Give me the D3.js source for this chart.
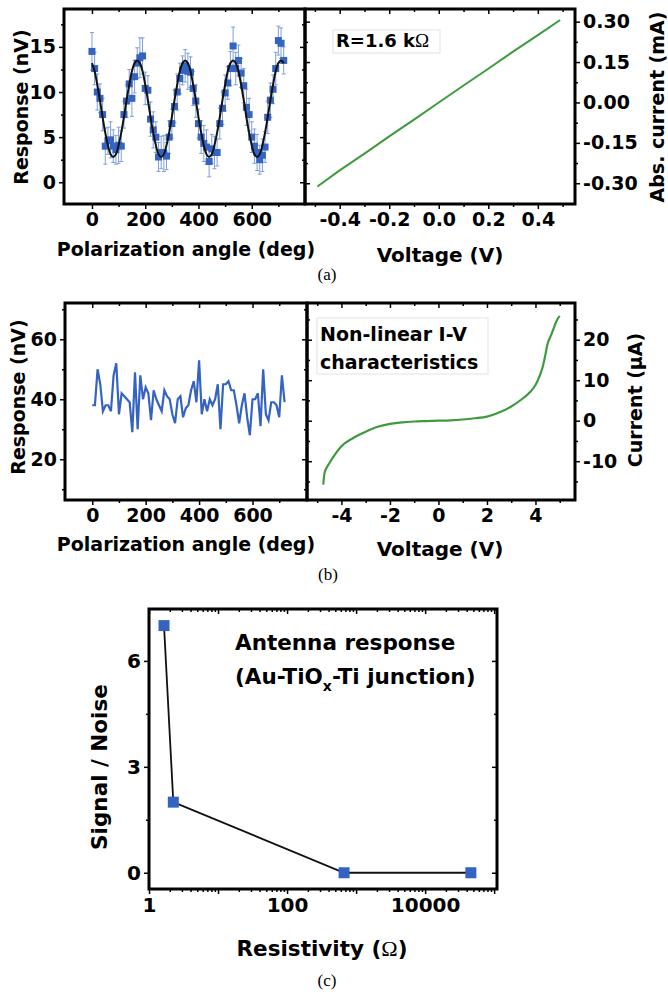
<!DOCTYPE html>
<html>
<head>
<meta charset="utf-8">
<script src="https://cdn.jsdelivr.net/npm/d3@7"></script>
<style>
  body { margin: 0; background: #fff; }
  svg text { font-family: "DejaVu Sans", sans-serif; font-weight: bold; fill: #000; }
  .tick line { stroke: #000; stroke-width: 1.5; }
  .domain { display: none; }
  .cap { font-family: "Liberation Serif", serif !important; font-weight: normal !important; }
</style>
</head>
<body>
<div id="chart"></div>
<script>
// (a) left: polarization response, squares with error bars + fit
const anglesA = [0,10,20,30,40,50,60,70,80,90,100,110,120,130,140,150,160,170,180,190,200,210,220,230,240,250,260,270,280,290,300,310,320,330,340,350,360,370,380,390,400,410,420,430,440,450,460,470,480,490,500,510,520,530,540,550,560,570,580,590,600,610,620,630,640,650,660,670,680,690,700,710,720];
const respA = [14.5,12.6,10.0,9.3,7.5,4.0,4.6,4.7,4.0,3.6,4.1,4.0,7.5,9.0,10.9,9.3,11.7,13.2,13.8,14.0,10.4,10.2,7.0,5.8,5.0,2.8,3.3,3.2,2.9,5.0,6.5,8.4,10.0,11.5,12.4,12.9,12.3,12.2,10.4,9.0,6.5,5.0,4.3,3.9,2.3,3.7,3.3,3.3,6.5,8.2,9.9,11.0,12.6,15.1,12.6,13.5,12.1,10.7,8.3,7.5,5.0,4.0,3.3,2.5,3.0,3.9,7.2,9.1,10.3,12.6,15.7,15.4,13.5];
const errA = [2.1,1.8,2.0,1.6,1.8,2.0,1.5,2.0,1.8,1.6,2.0,1.7,1.5,1.8,1.6,2.0,1.8,1.7,2.2,2.0,1.8,1.6,1.9,2.0,1.7,1.6,1.8,2.0,1.5,1.8,1.6,1.8,2.0,1.7,1.6,1.8,2.0,1.7,1.9,1.8,1.6,1.8,2.0,1.9,1.7,1.6,1.8,1.5,1.7,1.8,2.0,1.8,1.9,2.1,1.8,1.7,1.6,1.9,2.0,1.8,1.7,1.9,2.0,1.6,1.8,1.7,1.8,1.9,1.6,1.8,1.6,1.7,1.5];
const fitA = [13.2,12.3,10.8,9.1,7.2,5.5,4.1,3.1,2.8,3.1,4.1,5.5,7.2,9.1,10.8,12.3,13.2,13.5,
              13.2,12.3,10.8,9.1,7.2,5.5,4.1,3.1,2.8,3.1,4.1,5.5,7.2,9.1,10.8,12.3,13.2,13.5,
              13.2,12.3,10.8,9.1,7.2,5.5,4.1,3.1,2.8,3.1,4.1,5.5,7.2,9.1,10.8,12.3,13.2,13.5,
              13.2,12.3,10.8,9.1,7.2,5.5,4.1,3.1,2.8,3.1,4.1,5.5,7.2,9.1,10.8,12.3,13.2,13.5,13.2];

// (a) right: linear I-V, R = 1.6 kOhm
const voltsA = [-0.49,-0.4,-0.3,-0.2,-0.1,0,0.1,0.2,0.3,0.4,0.49];
const currA = [-0.312,-0.252,-0.19,-0.126,-0.064,0.0,0.063,0.125,0.189,0.25,0.306];

// (b) left: noisy response, no polarization dependence
const anglesB = anglesA;
const respB = [38,38,50,45,36,38,38,36,48,52,35,42,41,40,39,29,49,30,48,40,44,42,33,43,40,38,36,43,41,40,35,32,40,41,34,37,38,43,46,39,53,35,40,36,40,38,40,45,30,45,45,46,43,43,38,32,38,42,34,28,40,40,42,31,50,35,33,39,39,38,34,48,39];

// (b) right: non-linear I-V
const voltsB = [-4.75,-4.7,-4.6,-4.5,-4.25,-4,-3.5,-3,-2.5,-2,-1.5,-1,-0.5,0,0.5,1,1.5,2,2.5,3,3.5,3.8,4,4.2,4.3,4.4,4.5,4.6,4.7,4.8,4.9,5.0];
const currB = [-15.8,-13,-11.5,-10.5,-8.2,-6.3,-4.2,-2.7,-1.5,-0.8,-0.4,-0.2,-0.1,0,0.1,0.3,0.6,1.0,2.0,3.5,5.6,7.2,8.8,11.5,13.3,16,19,20.5,22,23.6,25,25.9];

// (c) signal / noise vs resistivity
const resistivity = [1.65, 2.25, 670, 46000];
const snr = [7, 2, 0, 0];

const blue = "#3463c2", lightBlue = "#7d9fdc", green = "#3f9a3f";

const svg = d3.select("#chart").append("svg").attr("width", 668).attr("height", 994);

// plain hyphen instead of the unicode minus, like the original figure
const fmt = spec => d => d3.format(spec)(d).replace("\u2212", "-");

// draw one framed plot with ticks on all four sides
function frame(o) {
  const g = svg.append("g");
  const [xl, xr] = o.x.range();
  const [yb, yt] = o.y.range();
  const fs = o.fs || 19;
  const put = (axisFn, scale, tr, vals, size, f, pad) => {
    const a = g.append("g").attr("transform", tr)
      .call(axisFn(scale).tickValues(vals).tickSize(size).tickPadding(pad || 3).tickFormat(f || (() => "")));
    a.selectAll("text").style("font-size", fs + "px");
    return a;
  };
  // minor ticks
  put(d3.axisBottom, o.x, `translate(0,${yb})`, o.xMinor, 3);
  put(d3.axisTop, o.x, `translate(0,${yt})`, o.xMinor, -3);
  put(d3.axisLeft, o.y, `translate(${xl},0)`, o.yMinor, o.yLabels === "left" ? 3 : -3);
  put(d3.axisRight, o.y, `translate(${xr},0)`, o.yMinor, o.yLabels === "right" ? 3 : -3);
  // major ticks
  put(d3.axisBottom, o.x, `translate(0,${yb})`, o.xMajor, 5, o.xFmt, 4);
  put(d3.axisTop, o.x, `translate(0,${yt})`, o.xMajor, -5);
  put(d3.axisLeft, o.y, `translate(${xl},0)`, o.yMajor, o.yLabels === "left" ? 5 : -5,
      o.yLabels === "left" ? o.yFmt : null, 3);
  put(d3.axisRight, o.y, `translate(${xr},0)`, o.yMajor, o.yLabels === "right" ? 5 : -5,
      o.yLabels === "right" ? o.yFmt : null, 3);
  g.append("rect").attr("x", xl).attr("y", yt).attr("width", xr - xl).attr("height", yb - yt)
    .attr("fill", "none").attr("stroke", "#000").attr("stroke-width", 3);
  return g;
}

function label(txt, x, y, size, rotate, anchor) {
  const t = svg.append("text").attr("x", x).attr("y", y).text(txt)
    .style("font-size", size + "px").attr("text-anchor", anchor || "middle");
  if (rotate) t.attr("transform", `rotate(-90,${x},${y})`);
  return t;
}

// ---------- (a) left ----------
const xA = d3.scaleLinear().domain([-105, 800]).range([64, 305]);
const yA = d3.scaleLinear().domain([-2.41, 19.2]).range([204, 9]);
const gA = svg.append("g");
anglesA.forEach((a, i) => {
  const x = xA(a), y1 = yA(respA[i] - errA[i]), y2 = yA(respA[i] + errA[i]);
  gA.append("line").attr("x1", x).attr("x2", x).attr("y1", y1).attr("y2", y2)
    .attr("stroke", lightBlue).attr("stroke-width", 1);
  [y1, y2].forEach(y => gA.append("line").attr("x1", x - 2).attr("x2", x + 2).attr("y1", y).attr("y2", y)
    .attr("stroke", lightBlue).attr("stroke-width", 1));
});
gA.selectAll("rect.pt").data(anglesA).enter().append("rect")
  .attr("x", d => xA(d) - 3.5).attr("y", (d, i) => yA(respA[i]) - 3.5)
  .attr("width", 7).attr("height", 7).attr("fill", blue);
gA.append("path").datum(anglesA)
  .attr("d", d3.line().x(d => xA(d)).y((d, i) => yA(fitA[i])).curve(d3.curveCatmullRom))
  .attr("fill", "none").attr("stroke", "#111").attr("stroke-width", 2);
frame({x: xA, y: yA, xMajor: [0, 200, 400, 600], xMinor: [100, 300, 500, 700],
       yMajor: [0, 5, 10, 15], yMinor: [2.5, 7.5, 12.5, 17.5], yLabels: "left",
       xFmt: fmt("d"), yFmt: fmt("d")});
label("Response (nV)", 28, 107, 19, true);
label("Polarization angle (deg)", 186, 256, 19);

// ---------- (a) right ----------
const xAr = d3.scaleLinear().domain([-0.54, 0.55]).range([305, 575]);
const yAr = d3.scaleLinear().domain([-0.377, 0.347]).range([204, 9]);
svg.append("path").datum(voltsA)
  .attr("d", d3.line().x(d => xAr(d)).y((d, i) => yAr(currA[i])))
  .attr("fill", "none").attr("stroke", green).attr("stroke-width", 2);
frame({x: xAr, y: yAr, xMajor: [-0.4, -0.2, 0, 0.2, 0.4], xMinor: [-0.5, -0.3, -0.1, 0.1, 0.3, 0.5],
       yMajor: [-0.3, -0.15, 0, 0.15, 0.3], yMinor: [-0.225, -0.075, 0.075, 0.225], yLabels: "right",
       xFmt: fmt(".1f"), yFmt: fmt(".2f")});
svg.append("rect").attr("x", 333).attr("y", 30).attr("width", 107).attr("height", 23)
  .attr("fill", "#fff").attr("stroke", "#e2e2e2");
const rt = svg.append("text").attr("x", 336).attr("y", 47).style("font-size", "18px");
rt.append("tspan").text("R=1.6 k");
rt.append("tspan").attr("class", "cap").style("font-size", "19px").text("Ω");
label("Abs. current (mA)", 664, 107, 19, true);
label("Voltage (V)", 440, 262, 20);
label("(a)", 327, 280, 17).attr("class", "cap");

// ---------- (b) left ----------
const xB = d3.scaleLinear().domain([-102, 804]).range([65, 307]);
const yB = d3.scaleLinear().domain([6.4, 72.1]).range([500, 303]);
svg.append("path").datum(anglesB)
  .attr("d", d3.line().x(d => xB(d)).y((d, i) => yB(respB[i])))
  .attr("fill", "none").attr("stroke", blue).attr("stroke-width", 2.2);
frame({x: xB, y: yB, xMajor: [0, 200, 400, 600], xMinor: [100, 300, 500, 700],
       yMajor: [20, 40, 60], yMinor: [10, 30, 50, 70], yLabels: "left",
       xFmt: fmt("d"), yFmt: fmt("d")});
label("Response (nV)", 25, 397, 19, true);
label("Polarization angle (deg)", 186, 551, 19);

// ---------- (b) right ----------
const xBr = d3.scaleLinear().domain([-5.42, 5.63]).range([307, 575]);
const yBr = d3.scaleLinear().domain([-19.58, 29.06]).range([500, 303]);
svg.append("path").datum(voltsB)
  .attr("d", d3.line().x(d => xBr(d)).y((d, i) => yBr(currB[i])).curve(d3.curveMonotoneX))
  .attr("fill", "none").attr("stroke", green).attr("stroke-width", 2.2);
frame({x: xBr, y: yBr, xMajor: [-4, -2, 0, 2, 4], xMinor: [-5, -3, -1, 1, 3, 5],
       yMajor: [-10, 0, 10, 20], yMinor: [-15, -5, 5, 15, 25], yLabels: "right",
       xFmt: fmt("d"), yFmt: fmt("d")});
svg.append("rect").attr("x", 317).attr("y", 318).attr("width", 171).attr("height", 56)
  .attr("fill", "#fff").attr("stroke", "#e2e2e2");
label("Non-linear I-V", 320, 341, 19, false, "start");
label("characteristics", 320, 369, 19, false, "start");
label("Current (µA)", 642, 400, 19, true);
label("Voltage (V)", 440, 556, 20);
label("(b)", 328, 580, 17).attr("class", "cap");

// ---------- (c) ----------
const xC = d3.scaleLog().domain([1, 1.1e5]).range([149, 497]);
const yC = d3.scaleLinear().domain([-0.46, 7.47]).range([889, 609]);
const minorC = [];
[1, 10, 100, 1000, 10000].forEach(p => [2, 3, 4, 5, 6, 7, 8, 9].forEach(m => minorC.push(p * m)));
svg.append("path").datum(resistivity)
  .attr("d", d3.line().x(d => xC(d)).y((d, i) => yC(snr[i])))
  .attr("fill", "none").attr("stroke", "#111").attr("stroke-width", 1.8);
svg.selectAll("rect.c").data(resistivity).enter().append("rect")
  .attr("x", d => xC(d) - 5.5).attr("y", (d, i) => yC(snr[i]) - 5.5)
  .attr("width", 11).attr("height", 11).attr("fill", blue);
frame({x: xC, y: yC, xMajor: [1, 10, 100, 1000, 10000, 100000], xMinor: minorC.filter(v => v < 1.1e5),
       yMajor: [0, 3, 6], yMinor: [1.5, 4.5], yLabels: "left", fs: 20,
       xFmt: d => [1, 100, 10000].includes(d) ? d : "", yFmt: fmt("d")});
label("Antenna response", 235, 650, 21.5, false, "start");
const jt = svg.append("text").attr("x", 235).attr("y", 684).style("font-size", "21.5px");
jt.append("tspan").text("(Au-TiO");
jt.append("tspan").attr("dy", 7).style("font-size", "14px").text("x");
jt.append("tspan").attr("dy", -7).text("-Ti junction)");
label("Signal / Noise", 107, 767, 21.5, true);
const rs = svg.append("text").attr("x", 322).attr("y", 956).attr("text-anchor", "middle").style("font-size", "21.5px");
rs.append("tspan").text("Resistivity (");
rs.append("tspan").attr("class", "cap").style("font-size", "22px").text("Ω");
rs.append("tspan").text(")");
label("(c)", 327, 986, 17).attr("class", "cap");
</script>
</body>
</html>
